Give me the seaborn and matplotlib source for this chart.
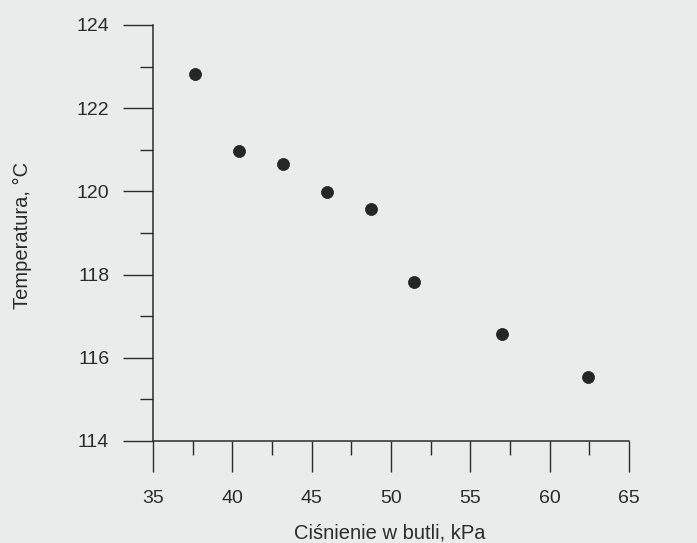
import pandas as pd
import seaborn as sns
import matplotlib.pyplot as plt
from matplotlib.ticker import MultipleLocator

# values
cisnienie = [37.65, 40.42, 43.21, 45.98, 48.74, 51.46, 56.97, 62.43]
temperatura = [122.82, 120.98, 120.65, 119.99, 119.57, 117.81, 116.57, 115.54]
x_ticks = [35, 40, 45, 50, 55, 60, 65]
y_ticks = [114, 116, 118, 120, 122, 124]

df = pd.DataFrame({'p': cisnienie, 't': temperatura})

sns.set_style('ticks')
plt.rcParams['font.family'] = ['Liberation Sans', 'DejaVu Sans']
ink = '#2b2b2b'
bg = '#eaebeb'

fig = plt.figure(figsize=(6.97, 5.43), dpi=100, facecolor=bg)
ax = fig.add_axes([0.2195, 0.188, 0.6829, 0.766])
ax.set_facecolor(bg)

sns.scatterplot(data=df, x='p', y='t', ax=ax, s=75, color='#262626',
                edgecolor='#1a1a1a', linewidth=0.5, zorder=3)

ax.set_xlim(35, 65)
ax.set_ylim(114, 124)
ax.set_xticks(x_ticks)
ax.set_yticks(y_ticks)
ax.xaxis.set_minor_locator(MultipleLocator(2.5))
ax.yaxis.set_minor_locator(MultipleLocator(1))

sns.despine(ax=ax)
for s in ['left', 'bottom']:
    ax.spines[s].set_color(ink)
    ax.spines[s].set_linewidth(1.1)

ax.tick_params(axis='y', which='major', direction='out', length=21.5, width=1.0,
               color=ink, labelsize=14, labelcolor=ink, pad=10)
ax.tick_params(axis='y', which='minor', direction='out', length=9.5, width=1.0, color=ink)
ax.tick_params(axis='x', which='major', direction='out', length=22, width=1.0,
               color=ink, labelsize=14, labelcolor=ink, pad=13)
ax.tick_params(axis='x', which='minor', direction='out', length=10, width=1.0, color=ink)

ax.set_xlabel('Ciśnienie w butli, kPa', fontsize=14.5, color=ink)
ax.set_ylabel('Temperatura, °C', fontsize=14.5, color=ink)
ax.xaxis.set_label_coords(0.498, -0.198)
ax.yaxis.set_label_coords(-0.255, 0.493)

fig.savefig('out.png', dpi=100, facecolor=bg)
